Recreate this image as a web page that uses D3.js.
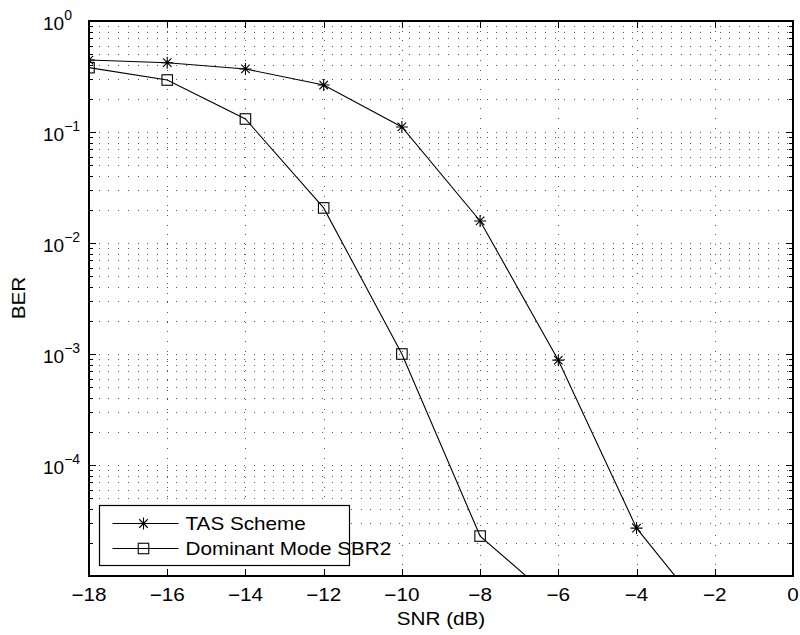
<!DOCTYPE html>
<html>
<head>
<meta charset="utf-8">
<script src="https://cdn.jsdelivr.net/npm/d3@7"></script>
<style>
  body { margin: 0; background: #fff; }
  text { font-family: "Liberation Sans", Arial, Helvetica, sans-serif; fill: #000; }
</style>
</head>
<body>
<div id="chart"></div>
<script>
// Data
const snr = [-18, -16, -14, -12, -10, -8, -6, -4, -2];
const tasBer = [0.445, 0.421, 0.370, 0.265, 0.111, 0.0158, 8.8e-4, 2.7e-5, 3.6e-6];
const sbr2Snr = [-18, -16, -14, -12, -10, -8, -6];
const sbr2Ber = [0.38, 0.294, 0.131, 0.0207, 1.0e-3, 2.29e-5, 5.6e-6];
const xTicks = [-18, -16, -14, -12, -10, -8, -6, -4, -2, 0];
const yTickExp = [0, -1, -2, -3, -4];
const seriesNames = ["TAS Scheme", "Dominant Mode SBR2"];

// Set the dimensions and margins of the graph
const margin = { top: 21, right: 7, bottom: 59, left: 89 };
const width = 800 - margin.left - margin.right;
const height = 635 - margin.top - margin.bottom;
const stretch = 1.15; // the original font is a bit wider than Liberation Sans

const svg = d3.select("#chart")
  .append("svg")
  .attr("width", width + margin.left + margin.right)
  .attr("height", height + margin.top + margin.bottom)
  .append("g")
  .attr("transform", "translate(" + margin.left + "," + margin.top + ")");

const x = d3.scaleLinear().domain([-18, 0]).range([0, width]);
const y = d3.scaleLog().domain([1e-5, 1]).range([height, 0]);

// minor + major log positions inside the box
const logTicks = [];
for (let e = -5; e < 0; e++) {
  for (let m = 1; m < 10; m++) logTicks.push(m * Math.pow(10, e));
}

// Grid
const grid = svg.append("g")
  .attr("stroke", "#555")
  .attr("stroke-width", 1)
  .attr("stroke-dasharray", "1,8.7")
  .attr("shape-rendering", "crispEdges");

grid.selectAll(".hgrid")
  .data(logTicks.filter(function(d) { return d > 1e-5; }))
  .enter().append("line")
  .attr("x1", 0).attr("x2", width)
  .attr("y1", function(d) { return Math.round(y(d)) + 0.5; })
  .attr("y2", function(d) { return Math.round(y(d)) + 0.5; });

grid.selectAll(".vgrid")
  .data(xTicks.slice(1, -1))
  .enter().append("line")
  .attr("y1", 0).attr("y2", height)
  .attr("x1", function(d) { return Math.round(x(d)) + 0.5; })
  .attr("x2", function(d) { return Math.round(x(d)) + 0.5; });

// Ticks, inward on all four sides
const ticks = svg.append("g").attr("stroke", "#000").attr("stroke-width", 1);
xTicks.slice(1, -1).forEach(function(d) {
  const px = Math.round(x(d)) + 0.5;
  ticks.append("line").attr("x1", px).attr("x2", px).attr("y1", height).attr("y2", height - 7);
  ticks.append("line").attr("x1", px).attr("x2", px).attr("y1", 0).attr("y2", 7);
});
logTicks.filter(function(d) { return d > 1e-5; }).forEach(function(d) {
  const major = Math.abs(Math.log10(d) - Math.round(Math.log10(d))) < 1e-9;
  const len = major ? 7 : 4;
  const py = Math.round(y(d)) + 0.5;
  ticks.append("line").attr("x1", 0).attr("x2", len).attr("y1", py).attr("y2", py);
  ticks.append("line").attr("x1", width).attr("x2", width - len).attr("y1", py).attr("y2", py);
});

// Tick labels
svg.selectAll(".xlabel")
  .data(xTicks)
  .enter().append("text")
  .attr("transform", function(d) { return "translate(" + x(d) + "," + (height + 25) + ") scale(" + stretch + ",1)"; })
  .attr("text-anchor", "middle")
  .style("font-size", "18px")
  .text(function(d) { return d < 0 ? "\u2212" + Math.abs(d) : d; });

const yl = svg.selectAll(".ylabel")
  .data(yTickExp)
  .enter().append("text")
  .attr("x", 43 - margin.left)
  .attr("y", function(d) { return y(Math.pow(10, d)) + 8.5; })
  .style("font-size", "19px");
yl.append("tspan").text("10");
yl.append("tspan")
  .attr("dy", -10)
  .style("font-size", "14px")
  .text(function(d) { return d < 0 ? "\u2212" + Math.abs(d) : d; });

// Axis titles
svg.append("text")
  .attr("transform", "translate(" + (width / 2) + "," + (height + 49) + ") scale(" + stretch + ",1)")
  .attr("text-anchor", "middle")
  .style("font-size", "18px")
  .text("SNR (dB)");

svg.append("text")
  .attr("transform", "translate(" + (25 - margin.left) + "," + (298 - margin.top) + ") rotate(-90) scale(" + stretch + ",1)")
  .attr("text-anchor", "middle")
  .style("font-size", "18px")
  .text("BER");

// Lines, clipped to the box
svg.append("clipPath").attr("id", "clip")
  .append("rect").attr("width", width).attr("height", height);

const plot = svg.append("g").attr("clip-path", "url(#clip)");
const line = d3.line()
  .x(function(d) { return x(d[0]); })
  .y(function(d) { return y(d[1]); });

const tasData = snr.map(function(s, i) { return [s, tasBer[i]]; });
const sbrData = sbr2Snr.map(function(s, i) { return [s, sbr2Ber[i]]; });

plot.append("path").datum(tasData)
  .attr("d", line).attr("fill", "none").attr("stroke", "#000").attr("stroke-width", 1.1);
plot.append("path").datum(sbrData)
  .attr("d", line).attr("fill", "none").attr("stroke", "#000").attr("stroke-width", 1.1);

function star(g, r) {
  const d = r * Math.SQRT1_2;
  g.append("path")
    .attr("d", "M" + (-r) + ",0H" + r + "M0," + (-r) + "V" + r +
               "M" + (-d) + "," + (-d) + "L" + d + "," + d +
               "M" + (-d) + "," + d + "L" + d + "," + (-d))
    .attr("stroke", "#000").attr("stroke-width", 1.1).attr("fill", "none");
}
function square(g, s) {
  g.append("rect")
    .attr("x", -s / 2).attr("y", -s / 2).attr("width", s).attr("height", s)
    .attr("stroke", "#000").attr("stroke-width", 1.1).attr("fill", "none");
}

plot.selectAll(".tas")
  .data(tasData)
  .enter().append("g")
  .attr("transform", function(d) { return "translate(" + x(d[0]) + "," + y(d[1]) + ")"; })
  .each(function() { star(d3.select(this), 6); });

plot.selectAll(".sbr")
  .data(sbrData)
  .enter().append("g")
  .attr("transform", function(d) { return "translate(" + x(d[0]) + "," + y(d[1]) + ")"; })
  .each(function() { square(d3.select(this), 10.5); });

// Axes box
svg.append("rect")
  .attr("width", width).attr("height", height)
  .attr("fill", "none").attr("stroke", "#000").attr("stroke-width", 2);

// Legend
const legend = svg.append("g")
  .attr("transform", "translate(" + (99.5 - margin.left) + "," + (505.5 - margin.top) + ")");
legend.append("rect")
  .attr("width", 250).attr("height", 60)
  .attr("fill", "#fff").attr("stroke", "#000").attr("stroke-width", 1.2);

seriesNames.forEach(function(name, i) {
  const row = legend.append("g").attr("transform", "translate(0," + (18 + i * 25) + ")");
  row.append("line").attr("x1", 13).attr("x2", 79).attr("y1", 0).attr("y2", 0)
    .attr("stroke", "#000").attr("stroke-width", 1.1);
  const m = row.append("g").attr("transform", "translate(44,0)");
  if (i === 0) star(m, 6); else square(m, 10.5);
  row.append("text")
    .attr("transform", "translate(86,6.5) scale(" + stretch + ",1)")
    .style("font-size", "18px")
    .text(name);
});
</script>
</body>
</html>
